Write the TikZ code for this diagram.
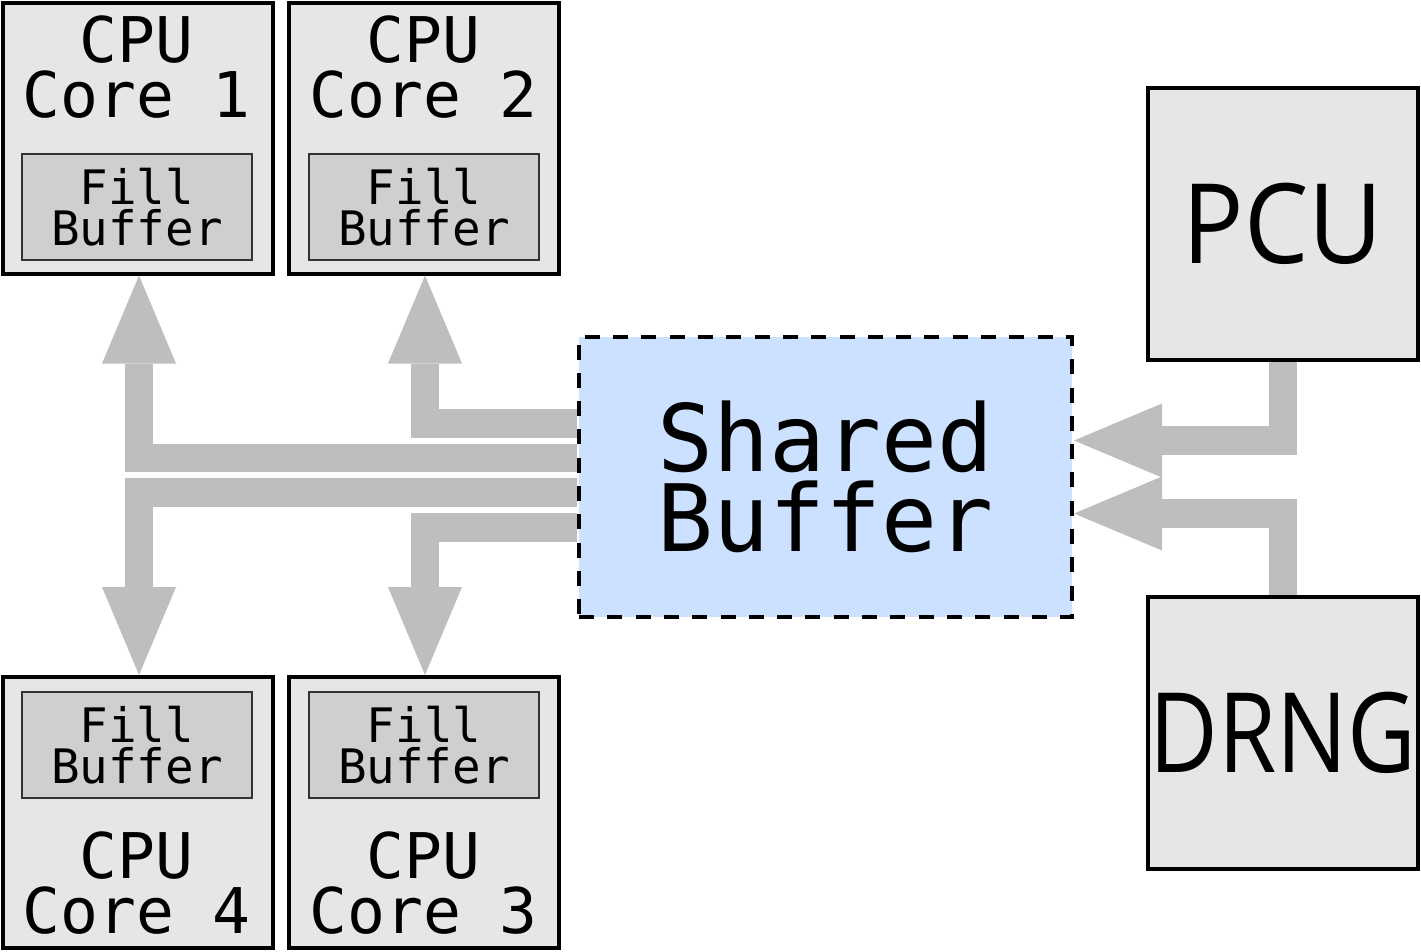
\documentclass[tikz,border=0pt]{standalone}
\usepackage{fontspec}
\usepackage{graphicx}
\newfontfamily\monofont{DejaVu Sans Mono}
\newfontfamily\opensans{Open Sans}
\usetikzlibrary{arrows.meta,calc}
\definecolor{boxgray}{HTML}{E6E6E6}
\definecolor{fbgray}{HTML}{CFCFCF}
\definecolor{fbline}{HTML}{333333}
\definecolor{arrowgray}{HTML}{BEBEBE}
\definecolor{sbblue}{HTML}{CCE0FF}
\tikzset{
  corebox/.style={draw=black, line width=4pt, fill=boxgray, minimum width=270pt, minimum height=271pt, inner sep=0pt},
  bigbox/.style={draw=black, line width=4pt, fill=boxgray, minimum width=270pt, minimum height=272pt, inner sep=0pt, font=\opensans\fontsize{111}{120}\selectfont},
  coretext/.style={inner sep=0pt, align=center, font=\monofont\fontsize{63}{55}\selectfont},
  fillbox/.style={draw=fbline, line width=1.5pt, fill=fbgray, minimum width=230pt, minimum height=106pt, inner sep=0pt, align=center, font=\monofont\fontsize{47.5}{41}\selectfont},
  sharedbox/.style={draw=black, line width=4pt, dash pattern=on 15pt off 13.3pt, fill=sbblue, minimum width=493pt, minimum height=280pt, inner sep=0pt, align=center, font=\monofont\fontsize{93}{80}\selectfont},
  fatarrow/.style={draw=arrowgray, line width=28.5pt, line join=miter, -{Triangle[width=74pt,length=88pt,line width=0pt]}}
}
\begin{document}
\begin{tikzpicture}[x=1pt,y=-1pt]
\useasboundingbox (0,0) rectangle (1421,951);
% CPU cores
\node[corebox] (core1) at (137.5,138) {};
\node[coretext] (core1t) at (136.5,67) {CPU\\Core 1};
\node[fillbox] (fb1) at (137,207) {Fill\\Buffer};
\node[corebox] (core2) at (424,138) {};
\node[coretext] (core2t) at (423.5,67) {CPU\\Core 2};
\node[fillbox] (fb2) at (424,207) {Fill\\Buffer};
\node[corebox] (core4) at (137.5,812.5) {};
\node[fillbox] (fb4) at (137,745) {Fill\\Buffer};
\node[coretext] (core4t) at (136.5,883) {CPU\\Core 4};
\node[corebox] (core3) at (424,812.5) {};
\node[fillbox] (fb3) at (424,745) {Fill\\Buffer};
\node[coretext] (core3t) at (423.5,883) {CPU\\Core 3};
% shared buffer
\node[sharedbox] (sb) at (825.5,477) {Shared\\Buffer};
% PCU and DRNG
\node[bigbox] (pcu) at (1283,224) {\scalebox{0.92}[1]{PCU}};
\node[bigbox] (drng) at (1283,733) {\scalebox{0.85}[1]{DRNG}};
% connectors
\draw[fatarrow] ($(sb.west)+(0,-19)$) -| ([xshift=1.5pt]core1.south);
\draw[fatarrow] ($(sb.west)+(0,-53.5)$) -| ([xshift=1pt]core2.south);
\draw[fatarrow] ($(sb.west)+(0,15.7)$) -| ([xshift=1.5pt]core4.north);
\draw[fatarrow] ($(sb.west)+(0,50.3)$) -| ([xshift=1pt]core3.north);
\draw[fatarrow] (pcu.south) |- ($(sb.east)+(0,-36.5)$);
\draw[fatarrow] (drng.north) |- ($(sb.east)+(0,36.5)$);
\end{tikzpicture}
\end{document}
